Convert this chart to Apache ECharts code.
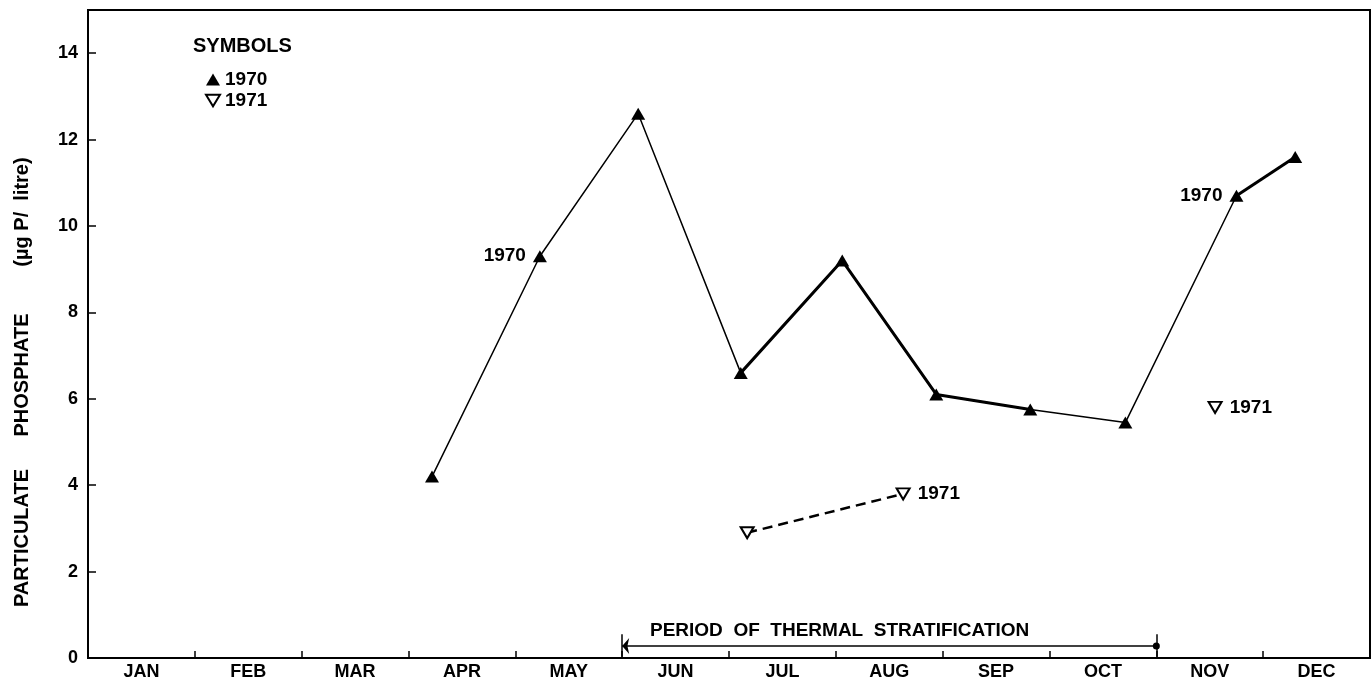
<!DOCTYPE html>
<html>
<head>
<meta charset="utf-8">
<script src="https://cdn.jsdelivr.net/npm/echarts@6/dist/echarts.min.js"></script>
<style>
html,body{margin:0;padding:0;background:#fff;}
#chart{width:1372px;height:686px;}
</style>
</head>
<body>
<div id="chart"></div>
<script>
// ---- data ----
const monthLabels = ['JAN','FEB','MAR','APR','MAY','JUN','JUL','AUG','SEP','OCT','NOV','DEC'];
const yTicks = [0, 2, 4, 6, 8, 10, 12, 14];
// 1970 samples: position in months from 1 Jan, value in ug P/litre
const months1970 = [3.22, 4.23, 5.15, 6.11, 7.06, 7.94, 8.82, 9.71, 10.75, 11.3];
const values1970 = [4.2, 9.3, 12.6, 6.6, 9.2, 6.1, 5.75, 5.45, 10.7, 11.6];
const labelled1970 = [1, 8];
const heavySegments1970 = [[3, 6], [8, 9]];
// 1971 samples
const months1971 = [6.17, 7.63, 10.55];
const values1971 = [2.9, 3.8, 5.8];
const labelled1971 = [1, 2];
const joined1971 = 2; // first n points joined by dashed line
// period of thermal stratification (months)
const stratStart = 5.0;
const stratEnd = 10.0;
const stratLevel = 0.28;

const FONT = 'Liberation Sans, Arial, sans-serif';
const invTri = 'path://M0,0 L12,0 L6,10 Z';

function pts(xs, ys, from, to) {
  const out = [];
  for (let i = from; i <= to; i++) out.push([xs[i], ys[i]]);
  return out;
}

const data1970 = months1970.map((m, i) => {
  const item = { value: [m, values1970[i]] };
  if (labelled1970.includes(i)) {
    item.label = { show: true, position: 'left', distance: 7, formatter: '1970' };
  }
  return item;
});
const data1971 = months1971.map((m, i) => {
  const item = { value: [m, values1971[i]] };
  if (labelled1971.includes(i)) {
    item.label = { show: true, position: 'right', distance: 7, formatter: '1971' };
  }
  return item;
});

const labelStyle = { color: '#000', fontFamily: FONT, fontSize: 19, fontWeight: 'bold' };
const hollowStyle = { color: '#fff', borderColor: '#000', borderWidth: 2, opacity: 1 };

const series = [
  {
    name: '1970', type: 'line', xAxisIndex: 1, data: data1970,
    symbol: 'triangle', symbolSize: [14, 12],
    itemStyle: { color: '#000' },
    lineStyle: { color: '#000', width: 1.5 },
    label: labelStyle, z: 3
  }
];
heavySegments1970.forEach(([a, b]) => {
  series.push({
    type: 'line', xAxisIndex: 1, data: pts(months1970, values1970, a, b),
    symbol: 'none', lineStyle: { color: '#000', width: 3 }, z: 2, silent: true
  });
});
series.push({
  name: '1971', type: 'line', xAxisIndex: 1, data: data1971.slice(0, joined1971),
  symbol: invTri, symbolSize: [13, 11],
  itemStyle: hollowStyle,
  lineStyle: { color: '#000', width: 2.5, type: [10, 6] },
  label: labelStyle, z: 3
});
series.push({
  name: '1971', type: 'scatter', xAxisIndex: 1, data: data1971.slice(joined1971),
  symbol: invTri, symbolSize: [13, 11],
  itemStyle: hollowStyle,
  label: labelStyle, z: 3
});
series.push({
  type: 'line', xAxisIndex: 1, data: [], silent: true,
  markLine: {
    silent: true, animation: false,
    label: { show: false },
    lineStyle: { color: '#000', width: 1.5, type: 'solid' },
    symbol: ['arrow', 'circle'], symbolSize: [12, 7],
    data: [
      [{ coord: [stratStart, stratLevel], symbol: 'arrow' }, { coord: [stratEnd, stratLevel], symbol: 'circle' }],
      [{ coord: [stratStart, 0.03], symbol: 'none' }, { coord: [stratStart, 0.55], symbol: 'none' }],
      [{ coord: [stratEnd, 0.03], symbol: 'none' }, { coord: [stratEnd, 0.55], symbol: 'none' }]
    ]
  }
});

const chart = echarts.init(document.getElementById('chart'), null, { renderer: 'canvas' });
chart.setOption({
  backgroundColor: '#fff',
  animation: false,
  grid: { left: 88, right: 2, top: 10, bottom: 28, show: true, borderColor: '#000', borderWidth: 2 },
  legend: {
    left: 200, top: 65, orient: 'vertical', itemGap: 2,
    itemWidth: 14, itemHeight: 12,
    textStyle: { color: '#000', fontFamily: FONT, fontSize: 19, fontWeight: 'bold' },
    data: [
      { name: '1970', icon: 'triangle', itemStyle: { color: '#000' } },
      { name: '1971', icon: invTri, itemStyle: hollowStyle }
    ],
    selectedMode: false
  },
  xAxis: [
    {
      type: 'category', data: monthLabels, boundaryGap: true,
      axisLine: { lineStyle: { color: '#000', width: 2 } },
      axisTick: { show: true, inside: true, length: 7, interval: 0, lineStyle: { color: '#000', width: 1.5 } },
      axisLabel: { interval: 0, margin: 5, color: '#000', fontFamily: FONT, fontSize: 18, fontWeight: 'bold' },
      splitLine: { show: false }
    },
    { type: 'value', min: 0, max: 12, show: false, splitLine: { show: false } }
  ],
  yAxis: {
    type: 'value', min: 0, max: 15, interval: 2,
    axisLine: { show: true, lineStyle: { color: '#000', width: 2 } },
    axisTick: { show: true, inside: true, length: 8, lineStyle: { color: '#000', width: 1.5 } },
    axisLabel: {
      margin: 10, color: '#000', fontFamily: FONT, fontSize: 18, fontWeight: 'bold',
      formatter: v => (yTicks.includes(v) ? String(v) : '')
    },
    splitLine: { show: false }
  },
  graphic: [
    { type: 'text', left: 193, top: 36, style: { text: 'SYMBOLS', font: 'bold 20px ' + FONT, fill: '#000' } },
    { type: 'text', left: 650, top: 621, style: { text: 'PERIOD  OF  THERMAL  STRATIFICATION', font: 'bold 19px ' + FONT, fill: '#000' } },
    { type: 'text', x: 22, y: 538, rotation: Math.PI / 2, style: { text: 'PARTICULATE', font: 'bold 20px ' + FONT, fill: '#000', align: 'center', verticalAlign: 'middle' } },
    { type: 'text', x: 22, y: 375, rotation: Math.PI / 2, style: { text: 'PHOSPHATE', font: 'bold 20px ' + FONT, fill: '#000', align: 'center', verticalAlign: 'middle' } },
    { type: 'text', x: 22, y: 212, rotation: Math.PI / 2, style: { text: '(µg P/  litre)', font: 'bold 20px ' + FONT, fill: '#000', align: 'center', verticalAlign: 'middle' } }
  ],
  series: series
});
</script>
</body>
</html>
